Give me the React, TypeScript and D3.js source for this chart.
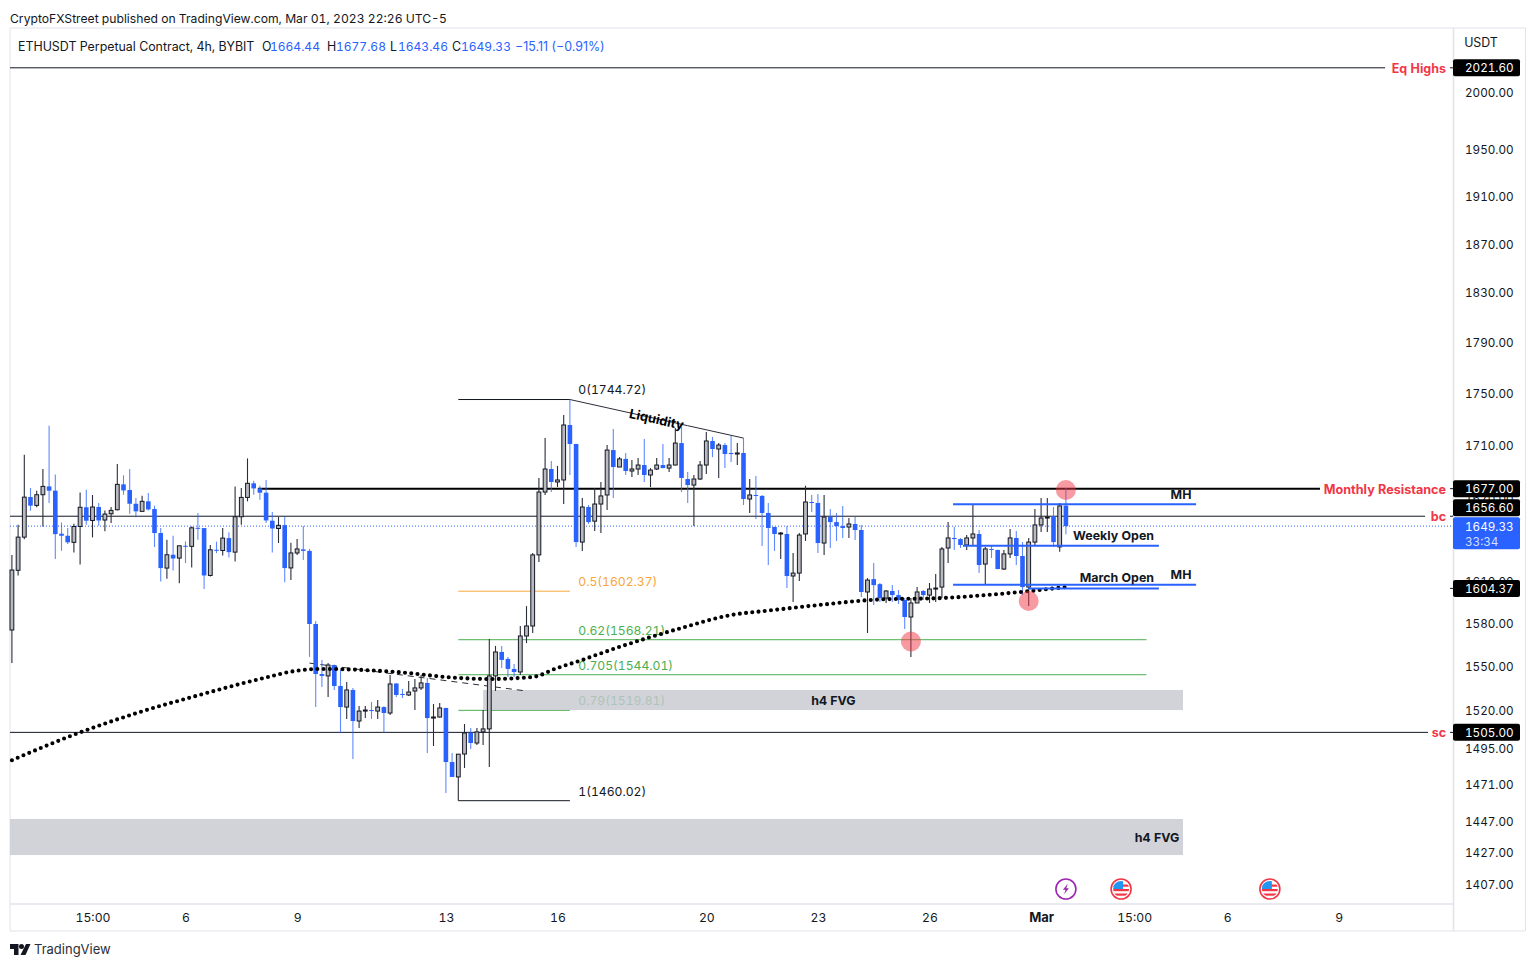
import { useEffect, useRef } from 'react';

import * as d3 from 'd3';

const width = 1536;
const height = 968;

// bar 0 is the first candle on the left, one bar = 4h
const opens = [
    1575, 1617.3, 1641.3, 1670.8, 1664.6, 1672.5, 1678.7, 1675.5, 1643.8, 1642.3,
    1637.5, 1649.1, 1663.2, 1653.5, 1663.4, 1653.8, 1658.4, 1661.4, 1680.2, 1676,
    1665.8, 1660.2, 1667.6, 1661.9, 1644.3, 1618.9, 1628.5, 1626.1, 1635, 1634.6,
    1648.1, 1647.9, 1613.6, 1632.1, 1631.6, 1640.6, 1630.4, 1656.2, 1670.5, 1681,
    1677.2, 1674, 1653.3, 1647.6, 1650.1, 1619, 1629.8, 1632.4, 1631.3, 1579.2,
    1544.5, 1543.2, 1550.7, 1536.3, 1522, 1533.6, 1512.6, 1519.3, 1520, 1519.3,
    1522, 1518, 1538, 1530.9, 1530.2, 1532.9, 1535, 1538.4, 1514.6, 1515.3,
    1521.4, 1485.3, 1475.5, 1490.6, 1504.6, 1497.9, 1505.3, 1507.3, 1543.2, 1559.7,
    1554.9, 1548, 1545.9, 1570.8, 1577.8, 1628.4, 1674.5, 1691.7, 1682, 1683.5,
    1725.1, 1710.6, 1637.7, 1663.4, 1653, 1665.6, 1672.3, 1706, 1693.2, 1699.3,
    1690.2, 1691.7, 1694.7, 1687.2, 1691.7, 1694.7, 1692.4, 1694.7, 1711.3, 1684.2,
    1679.7, 1684.2, 1694.7, 1712.9, 1706.8, 1709.8, 1703.8, 1703, 1703.8, 1669.3,
    1672.3, 1671.6, 1659, 1648.7, 1643.6, 1643.6, 1613.2, 1615.3, 1643.6, 1667.1,
    1666.4, 1637, 1656, 1652.3, 1649.4, 1648.7, 1650.9, 1646.5, 1601.8, 1611,
    1607.4, 1597.5, 1602.5, 1599.6, 1596.1, 1584.1, 1594, 1602.5, 1599.6, 1603.9,
    1605.3, 1633.4, 1640.7, 1639.9, 1635.6, 1640.7, 1643.6, 1621.8, 1632.7, 1632,
    1618.2, 1629.1, 1640.7, 1627.6, 1605.3, 1637.7, 1650.2, 1655.3, 1656.7, 1634.2,
    1664.44
];
const highs = [
    1628.4, 1650.4, 1702.5, 1677.5, 1675.5, 1691.7, 1724.6, 1687.5, 1652, 1647.9,
    1651.1, 1674.2, 1676.2, 1672.3, 1666.3, 1660.9, 1663.4, 1695.4, 1687, 1691.7,
    1670, 1671.8, 1673.7, 1664.4, 1647.9, 1639.4, 1642.3, 1635, 1638.2, 1649.1,
    1658.9, 1648, 1635.6, 1638, 1647.9, 1644.8, 1678.7, 1677.5, 1699.7, 1683,
    1679.2, 1683.5, 1659.7, 1656, 1656, 1637.2, 1639.9, 1649.4, 1632.7, 1581.3,
    1554.2, 1552.1, 1551, 1547.3, 1539, 1535, 1522.7, 1522.7, 1525.4, 1526.8,
    1522.5, 1543.9, 1538.4, 1534.3, 1539.7, 1541.1, 1543.9, 1541.8, 1524.1, 1524.8,
    1521.5, 1491.2, 1490.6, 1510.6, 1508, 1508, 1520, 1568.7, 1563.9, 1563.9,
    1556.3, 1551.4, 1577.8, 1591.8, 1629.8, 1685, 1715.1, 1697.7, 1694, 1732.7,
    1744.72, 1710.7, 1670, 1664.9, 1677.5, 1682, 1709.8, 1722.1, 1700.7, 1703.8,
    1698.5, 1700, 1714.4, 1692.4, 1700, 1710.6, 1700, 1722.8, 1723.6, 1689.4,
    1687.2, 1697.7, 1719.8, 1716, 1711.3, 1711.3, 1716.7, 1711.3, 1715.1, 1684.2,
    1686.5, 1672.3, 1666.4, 1648.8, 1645, 1649.4, 1629.8, 1644.3, 1679.2, 1672.3,
    1673, 1672.3, 1661.9, 1659, 1664.2, 1655.3, 1656, 1650.2, 1611.7, 1622.5,
    1608.2, 1603.2, 1606.7, 1603.2, 1597.5, 1597.5, 1605.3, 1603.2, 1608.2, 1614.6,
    1634.2, 1652.3, 1648.7, 1640.7, 1642.8, 1664.9, 1646.5, 1634.2, 1634.9, 1632.1,
    1632, 1647.2, 1645.8, 1637.7, 1640.7, 1661.9, 1670, 1670, 1663.4, 1666.4,
    1677.68
];
const lows = [
    1552, 1613.6, 1639.8, 1660.7, 1663.2, 1649.1, 1666.3, 1625.4, 1631.4, 1636.3,
    1630.2, 1621.5, 1650.4, 1641.1, 1649.6, 1645.5, 1651.6, 1660.9, 1672.5, 1658.4,
    1655.8, 1659.7, 1660.9, 1634.1, 1609.3, 1611.2, 1617.2, 1608, 1622.5, 1619.4,
    1639.4, 1603.9, 1612.9, 1629.7, 1628, 1626.6, 1623.7, 1650.4, 1667.6, 1672.5,
    1668.8, 1651.6, 1630.2, 1637, 1608.8, 1610.3, 1628.4, 1624.7, 1556.3, 1522,
    1535.6, 1528.8, 1533.6, 1504.6, 1514, 1487.3, 1507.9, 1514.6, 1514, 1514,
    1504.6, 1516.6, 1528.8, 1528.1, 1529.5, 1520, 1533.6, 1491.2, 1495.9, 1515,
    1465, 1475.4, 1460.02, 1481.4, 1493.9, 1496.6, 1496.6, 1482, 1532.9, 1548.7,
    1542.5, 1542.5, 1543.9, 1565.9, 1572.9, 1623.3, 1672.3, 1674.5, 1678.2, 1665.7,
    1687.2, 1634.2, 1631.3, 1650.9, 1645.8, 1644.3, 1661.2, 1670, 1693.1, 1687.2,
    1685.8, 1687.2, 1682, 1678.2, 1690.9, 1692.3, 1689.4, 1694.6, 1674.5, 1666.4,
    1649.4, 1683.5, 1688, 1700.7, 1685, 1692.4, 1697, 1694.7, 1664.9, 1659,
    1654.5, 1634.9, 1621.1, 1631.3, 1625.4, 1604.6, 1594.7, 1609.6, 1638.5, 1659.7,
    1629.8, 1628.4, 1633.4, 1638.5, 1640.7, 1640.7, 1639.2, 1598.2, 1572.9, 1592.5,
    1594.7, 1594, 1594.7, 1593.3, 1575.7, 1556.3, 1593.9, 1596.1, 1594, 1594.7,
    1597.5, 1622.5, 1632, 1633.4, 1632, 1635.6, 1615.3, 1606.7, 1626.2, 1618.1,
    1617.5, 1626.2, 1621.1, 1599.6, 1591.8, 1635.6, 1645, 1645, 1634.2, 1630.6,
    1643.46
];
const closes = [
    1617.5, 1641.3, 1670.7, 1664.4, 1672.5, 1678.7, 1675.5, 1643.5, 1642.3, 1637.5,
    1649.1, 1663.2, 1653.3, 1663.4, 1653.5, 1658.2, 1660.9, 1680.2, 1675.7, 1665.8,
    1660.2, 1667.6, 1661.6, 1644.3, 1618.9, 1628.5, 1625.8, 1635, 1634.3, 1648.1,
    1647.6, 1613.6, 1632.1, 1631.4, 1640.6, 1630.4, 1656.2, 1670.5, 1681, 1677.2,
    1674, 1653.5, 1647.6, 1649.9, 1618.9, 1629.8, 1632.7, 1631.3, 1579.2, 1544.5,
    1543.2, 1550.7, 1536.3, 1522, 1533.6, 1512.6, 1519.3, 1520, 1519.3, 1522,
    1518, 1537.7, 1530.2, 1530.2, 1532.2, 1535, 1538.4, 1514.6, 1515.3, 1521.4,
    1485.3, 1475.5, 1490.5, 1504.6, 1497.9, 1505.3, 1507.3, 1543.2, 1559.7, 1554.2,
    1548, 1545.9, 1570.8, 1577.8, 1628.4, 1674.5, 1691.7, 1682, 1683.5, 1725.1,
    1710.6, 1637.7, 1663.4, 1652.3, 1665.6, 1671.6, 1706, 1693.2, 1699.3, 1690.2,
    1691.7, 1694.7, 1687.2, 1690.9, 1694.7, 1692.4, 1694.7, 1711.3, 1685, 1679.7,
    1684.2, 1694.7, 1712.9, 1706.8, 1709.8, 1703, 1703, 1703.8, 1669.3, 1672.3,
    1671.6, 1659, 1648, 1643.6, 1644.3, 1613.2, 1615.3, 1642.8, 1667.1, 1666.4,
    1637, 1656, 1652.3, 1649.4, 1648, 1650.9, 1646.5, 1601.8, 1610.3, 1606.7,
    1597.5, 1602.5, 1599.6, 1596.1, 1584.1, 1594, 1601.8, 1599.6, 1603.9, 1604.6,
    1632.7, 1640.7, 1639.9, 1635.6, 1640.7, 1643.6, 1621.1, 1632.7, 1632, 1618.2,
    1629.1, 1640.7, 1627.6, 1605.3, 1637.7, 1650.2, 1655.3, 1656, 1637.7, 1664.2,
    1649.33
];

// moving average, read at a few bars and joined by a curve
const maBars = [0, 10, 20, 30, 40, 46, 50, 62, 72, 77, 84, 88, 91, 98, 108, 116, 122, 130, 140, 150, 160, 170];
const maValues = [
    1486.5, 1503.4, 1517.8, 1529.9, 1541.1, 1546.8, 1548, 1545.9, 1541.8, 1541.1, 1542.5,
    1548.7, 1552.8, 1563.2, 1576.4, 1585.5, 1588.6, 1592.5, 1596.5, 1597.5, 1600.7, 1605.3
];

const priceTicks = [2000, 1950, 1910, 1870, 1830, 1790, 1750, 1710, 1670, 1610, 1580, 1550, 1520, 1495, 1471, 1447, 1427, 1407];
const timeTickBars = [13, 28, 46, 70, 88, 112, 130, 148, 166, 181, 196, 214];
const timeTickLabels = ['15:00', '6', '9', '13', '16', '20', '23', '26', 'Mar', '15:00', '6', '9'];

const fibLevels = ['0(1744.72)', '0.5(1602.37)', '0.62(1568.21)', '0.705(1544.01)', '0.79(1519.81)', '1(1460.02)'];
const fibPrices = [1744.72, 1602.37, 1568.21, 1544.01, 1519.81, 1460.02];
const fibColors = ['#131722', '#f9a63a', '#4caf50', '#4caf50', '#4caf50', '#131722'];
const fibEndBars = [90, 90, 183, 183, 90, 90];
const fibStartBar = 72;

const redLevelNames = ['Eq Highs', 'bc', 'sc'];
const redLevelPrices = [2021.6, 1656.6, 1505];
const redLevelEnds = [1385, 1425, 1428];

const priceTags = ['2021.60', '1677.00', '1656.60', '1604.37', '1505.00'];
const priceTagValues = [2021.6, 1677, 1656.6, 1604.37, 1505];
const priceTagShift = [0, 0, -8.5, 0, 0];

const blueLineNames = ['MH', 'Weekly Open', 'MH', 'March Open'];
const blueLinePrices = [1665.4, 1635, 1606.9, 1604.37];
const blueLineStarts = [151.8, 153.4, 151.8, 163.9];
const blueLineEnds = [191, 185, 191, 185];
const blueLabelLift = [10.5, 10.5, 10.5, 11.5];

const zoneTops = [1533.6, 1448.2];
const zoneBottoms = [1520, 1425.2];
const zoneStarts = [76, -0.3];
const zoneLabelBars = [132.5, 184.7];

const circleBars = [170, 164, 145];
const circlePrices = [1676, 1595.4, 1567];

const legendLabels = ['O', 'H', 'L', 'C'];
const legendValues = ['1664.44', '1677.68', '1643.46', '1649.33'];
const legendLabelX = [262, 327, 390, 452];
const legendValueX = [270, 336, 398, 461];

const FONT = 'Inter, "Noto Sans", sans-serif';
const BLUE = '#2962ff';
const RED = '#f23645';
const BORDER = '#e0e3eb';
const INK = '#131722';

export default function App() {
    const chart = useRef<SVGSVGElement>(null);

    useEffect(() => {
        const svg = d3.select(chart.current);
        svg.selectAll('*').remove();
        svg.attr('font-family', FONT).style('font-variant-numeric', 'tabular-nums');

        const x = d3.scaleLinear().domain([0, 214]).range([11.9, 1338.7]);
        const y = d3.scaleLog().domain([1407, 2000]).range([884, 92]);

        const text = (tx: number, ty: number, s: string, size: number, fill: string, weight = 400, anchor = 'start') =>
            svg
                .append('text')
                .attr('x', tx)
                .attr('y', ty + 1.5)
                .attr('font-size', size)
                .attr('font-weight', weight)
                .attr('fill', fill)
                .attr('text-anchor', anchor)
                .attr('dominant-baseline', 'middle')
                .text(s);

        const rule = (x1: number, y1: number, x2: number, y2: number, color: string, w = 1) =>
            svg.append('line').attr('x1', x1).attr('y1', y1).attr('x2', x2).attr('y2', y2).attr('stroke', color).attr('stroke-width', w);

        // header
        text(10, 18, 'CryptoFXStreet published on TradingView.com, Mar 01, 2023 22:26 UTC-5', 12.15, INK);
        text(18, 46, 'ETHUSDT Perpetual Contract, 4h, BYBIT', 12.4, INK);
        legendLabels.forEach((l, i) => {
            text(legendLabelX[i], 46, l, 12.4, INK);
            text(legendValueX[i], 46, legendValues[i], 12, BLUE);
        });
        text(515, 46, '−15.11 (−0.91%)', 12.4, BLUE).style('font-variant-numeric', 'normal');

        // pane frame
        rule(10, 28, 1525, 28, BORDER);
        rule(10, 904, 1453, 904, BORDER, 1.5);
        rule(10, 931, 1525, 931, BORDER);
        rule(10, 28, 10, 931, BORDER);
        rule(1453.5, 28, 1453.5, 931, BORDER, 1.5);
        rule(1525.5, 28, 1525.5, 931, BORDER);

        // price axis
        const yAxis = d3.axisRight(y).tickValues(priceTicks).tickSize(0).tickPadding(0).tickFormat(d3.format('.2f') as any);
        svg.append('g')
            .attr('transform', 'translate(1465,1)')
            .call(yAxis)
            .call((g) => g.select('.domain').remove())
            .call((g) => g.selectAll('text').attr('font-family', FONT).attr('font-size', 11.7).attr('fill', INK));
        text(1481, 42, 'USDT', 12.4, INK, 400, 'middle');

        // time axis
        const xAxis = d3
            .axisBottom(x)
            .tickValues(timeTickBars)
            .tickSize(0)
            .tickPadding(9)
            .tickFormat((_, i) => timeTickLabels[i]);
        svg.append('g')
            .attr('transform', 'translate(0,904)')
            .call(xAxis)
            .call((g) => g.select('.domain').remove())
            .call((g) =>
                g
                    .selectAll('text')
                    .attr('font-family', FONT)
                    .attr('font-size', (_, i) => (timeTickLabels[i] === 'Mar' ? 13 : 12.2))
                    .attr('fill', INK)
                    .attr('font-weight', (_, i) => (timeTickLabels[i] === 'Mar' ? 700 : 400))
            );

        // fib levels and their labels go under the grey zones
        fibLevels.forEach((label, i) => {
            rule(x(fibStartBar), y(fibPrices[i]), x(fibEndBars[i]), y(fibPrices[i]), fibColors[i], 1);
            text(x(fibStartBar) + 120, y(fibPrices[i]) - 10, label, 12.15, fibColors[i]);
        });

        zoneTops.forEach((top, i) => {
            svg.append('rect')
                .attr('x', x(zoneStarts[i]))
                .attr('y', y(top))
                .attr('width', 1183 - x(zoneStarts[i]))
                .attr('height', y(zoneBottoms[i]) - y(top))
                .attr('fill', '#c6c8cf')
                .attr('fill-opacity', 0.8);
            text(x(zoneLabelBars[i]), (y(top) + y(zoneBottoms[i])) / 2, 'h4 FVG', 12.4, INK, 700, 'middle');
        });

        // horizontal levels
        redLevelNames.forEach((name, i) => {
            rule(10, y(redLevelPrices[i]), redLevelEnds[i], y(redLevelPrices[i]), INK, 1);
            text(1446, y(redLevelPrices[i]), name, 12.5, RED, 700, 'end');
        });
        rule(x(39.7), y(1677), 1320, y(1677), '#000', 2);
        text(1446, y(1677), 'Monthly Resistance', 12.6, RED, 700, 'end');
        priceTagValues.forEach((p) => rule(1450, y(p), 1453, y(p), INK, 1));
        svg.append('line')
            .attr('x1', 10)
            .attr('x2', 1453)
            .attr('y1', y(1649.33))
            .attr('y2', y(1649.33))
            .attr('stroke', BLUE)
            .attr('stroke-dasharray', '1 2');

        // dashed trend line
        svg.append('line')
            .attr('x1', x(48))
            .attr('y1', y(1552))
            .attr('x2', x(82.8))
            .attr('y2', y(1533))
            .attr('stroke', '#2a2e39')
            .attr('stroke-dasharray', '6 5');

        // candles
        const bars = svg.append('g');
        opens.forEach((open, i) => {
            const up = closes[i] >= open;
            const cx = x(i);
            bars.append('line')
                .attr('x1', cx)
                .attr('x2', cx)
                .attr('y1', y(highs[i]))
                .attr('y2', y(lows[i]))
                .attr('stroke', up ? '#2a2e39' : BLUE)
                .attr('stroke-opacity', up ? 1 : 0.75)
                .attr('stroke-width', 1.1);
            const top = y(Math.max(open, closes[i]));
            const h = Math.max(Math.abs(y(open) - y(closes[i])), 1);
            if (up) {
                bars.append('rect')
                    .attr('x', cx - 1.9)
                    .attr('y', top)
                    .attr('width', 3.8)
                    .attr('height', h)
                    .attr('fill', '#b9bac0')
                    .attr('stroke', '#131722')
                    .attr('stroke-width', 1);
            } else {
                bars.append('rect')
                    .attr('x', cx - 2.3)
                    .attr('y', top)
                    .attr('width', 4.6)
                    .attr('height', h)
                    .attr('fill', BLUE);
            }
        });

        // moving average, one dot per bar
        const maLine = d3
            .line<number>()
            .x((_, i) => x(maBars[i]))
            .y((d) => y(d))
            .curve(d3.curveMonotoneX);
        svg.append('path')
            .attr('d', maLine(maValues))
            .attr('fill', 'none')
            .attr('stroke', '#000')
            .attr('stroke-width', 4.1)
            .attr('stroke-linecap', 'round')
            .attr('stroke-dasharray', '0 6.27');

        // blue session lines
        blueLineNames.forEach((name, i) => {
            rule(x(blueLineStarts[i]), y(blueLinePrices[i]), x(blueLineEnds[i]), y(blueLinePrices[i]), BLUE, 2);
            if (name === 'MH') {
                text(1181, y(blueLinePrices[i]) - blueLabelLift[i], name, 12.4, INK, 700, 'middle');
            } else {
                text(1154, y(blueLinePrices[i]) - blueLabelLift[i], name, 12.4, INK, 700, 'end');
            }
        });

        // liquidity line, broken around its label
        const liqStart: [number, number] = [x(90), y(1744.72)];
        const liqEnd: [number, number] = [x(118), y(1715.1)];
        const liqAt = d3.interpolate(liqStart, liqEnd);
        const [a, b] = [liqAt(0.32), liqAt(0.676)];
        rule(liqStart[0], liqStart[1], a[0], a[1], '#2a2e39');
        rule(b[0], b[1], liqEnd[0], liqEnd[1], '#2a2e39');
        const mid = liqAt(0.5);
        const angle = (Math.atan2(liqEnd[1] - liqStart[1], liqEnd[0] - liqStart[0]) * 180) / Math.PI;
        text(mid[0], mid[1], 'Liquidity', 13, '#000', 700, 'middle').attr('transform', `rotate(${angle} ${mid[0]} ${mid[1]})`);

        // highlighted wicks
        circleBars.forEach((bar, i) => {
            svg.append('circle').attr('cx', x(bar)).attr('cy', y(circlePrices[i])).attr('r', 10).attr('fill', RED).attr('fill-opacity', 0.5);
        });

        // price tags on the axis
        priceTags.forEach((tag, i) => {
            const cy = y(priceTagValues[i]) + priceTagShift[i];
            svg.append('rect').attr('x', 1453).attr('y', cy - 8.5).attr('width', 67).attr('height', 17).attr('rx', 2).attr('fill', '#000');
            text(1465, cy, tag, 11.7, '#fff');
        });
        const last = y(1649.33);
        svg.append('rect').attr('x', 1453).attr('y', last - 9).attr('width', 67).attr('height', 32).attr('rx', 2).attr('fill', BLUE);
        text(1465, last, '1649.33', 11.7, '#fff');
        text(1465, last + 15, '33:34', 11.7, '#d5dfff');

        // event markers
        const defs = svg.append('defs');
        const flagBars = [178.9, 202.9];
        flagBars.forEach((bar, i) => {
            const cx = x(bar);
            const cy = 889;
            defs.append('clipPath').attr('id', `flag${i}`).append('circle').attr('cx', cx).attr('cy', cy).attr('r', 8);
            const g = svg.append('g').attr('clip-path', `url(#flag${i})`);
            g.append('rect').attr('x', cx - 8).attr('y', cy - 8).attr('width', 16).attr('height', 16).attr('fill', '#fff');
            [-4.5, 0, 4.5].forEach((d) => g.append('rect').attr('x', cx - 8).attr('y', cy + d).attr('width', 16).attr('height', 2.2).attr('fill', RED));
            g.append('rect').attr('x', cx - 8).attr('y', cy - 8).attr('width', 10).attr('height', 8).attr('fill', '#2196f3');
            svg.append('circle').attr('cx', cx).attr('cy', cy).attr('r', 10).attr('fill', 'none').attr('stroke', RED).attr('stroke-width', 1.6);
        });
        const boltX = x(170);
        svg.append('circle').attr('cx', boltX).attr('cy', 889).attr('r', 10).attr('fill', '#fff').attr('stroke', '#9c27b0').attr('stroke-width', 1.6);
        svg.append('path')
            .attr('transform', `translate(${boltX},889)`)
            .attr('d', 'M1.8 -5.2 L-3 0.8 L-0.4 0.8 L-1.8 5.2 L3 -0.8 L0.4 -0.8 Z')
            .attr('fill', '#9c27b0');

        // footer logo
        svg.append('path').attr('d', 'M10 944 H18.5 V955 H14 V949 H10 Z').attr('fill', INK);
        svg.append('circle').attr('cx', 21.5).attr('cy', 946.6).attr('r', 2.5).attr('fill', INK);
        svg.append('path').attr('d', 'M26 944 H30.5 L25.5 955 H20.5 Z').attr('fill', INK);
        text(34, 948.5, 'TradingView', 13, '#2a2e39');
    }, []);

    return <svg ref={chart} width={width} height={height} style={{ position: 'absolute', left: 0, top: 0, display: 'block', background: '#fff' }} />;
}
